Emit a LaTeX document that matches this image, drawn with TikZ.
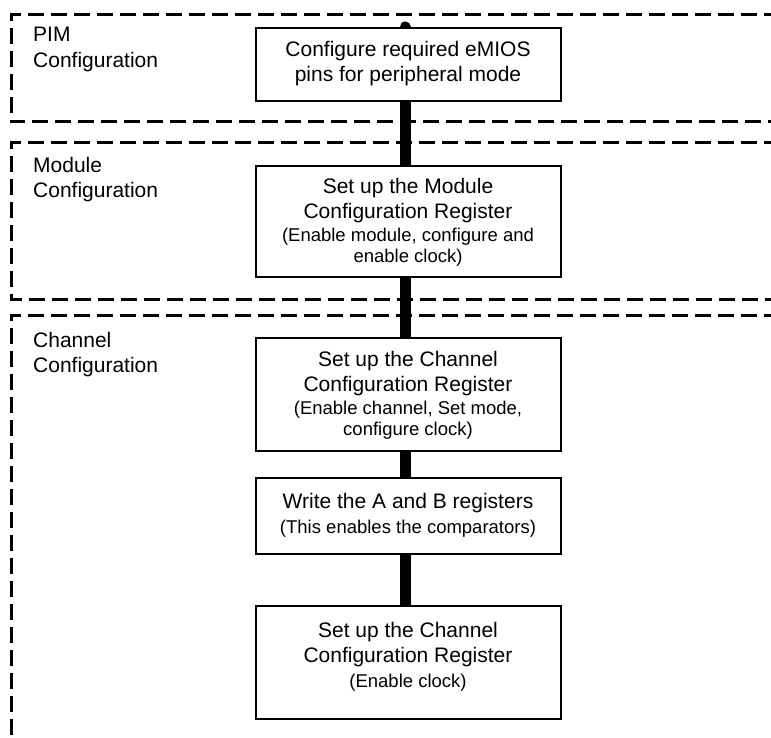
\documentclass[tikz,border=0pt]{standalone}
\usepackage{fontspec}
\setmainfont{Liberation Sans}
\pgfdeclarelayer{bg}
\pgfsetlayers{bg,main}
\newcommand\smtxt{\fontsize{18.5}{21}\selectfont}
\begin{document}
\begin{tikzpicture}[x=1pt,y=-1pt,
  zone/.style={line width=3pt, dash pattern=on 16pt off 7pt},
  stepbox/.style={draw, line width=2pt, fill=white, minimum width=305pt, inner sep=0pt},
  flow/.style={line width=11pt, line cap=round},
  txt/.style={align=center, font=\fontsize{21}{25}\selectfont, inner sep=0pt},
  lbl/.style={align=left, anchor=north west, font=\fontsize{21}{25.5}\selectfont, inner sep=0pt}]
\useasboundingbox (0,0) rectangle (771,738);
\clip (0,0) rectangle (771,738);
% zones
\draw[zone] (780,15) -- (11,15) -- (11,122) -- (780,122);
\draw[zone] (780,143) -- (11,143) -- (11,299) -- (780,299);
\draw[zone] (780,315) -- (11,315) -- (11,745);
\node[lbl] (l1) at (33,27) {PIM\\Configuration};
\node[lbl] (l2) at (33,157) {Module\\Configuration};
\node[lbl] (l3) at (33,332) {Channel\\Configuration};
% boxes
\node[stepbox, minimum height=73pt] (b1) at (408,64.5) {};
\node[stepbox, minimum height=111pt] (b2) at (408,221.5) {};
\node[stepbox, minimum height=113pt] (b3) at (408,394.5) {};
\node[stepbox, minimum height=76pt] (b4) at (408,516) {};
\node[stepbox, minimum height=113pt] (b5) at (408,662.5) {};
% texts
\node[txt] (t1) at ([yshift=1pt]b1.center) {Configure required eMIOS\\pins for peripheral mode};
\node[txt] (t2) at ([yshift=-1pt]b2.center) {Set up the Module\\Configuration Register\\[-2pt]{\smtxt (Enable module, configure and}\\[-4pt]{\smtxt enable clock)}};
\node[txt] (t3) at ([yshift=-1pt]b3.center) {Set up the Channel\\Configuration Register\\[-2pt]{\smtxt (Enable channel, Set mode,}\\[-4pt]{\smtxt configure clock)}};
\node[txt] (t4) at ([yshift=1pt]b4.center) {Write the A and B registers\\{\smtxt (This enables the comparators)}};
\node[txt] (t5) at ([yshift=6pt]b5.center) {Set up the Channel\\Configuration Register\\{\smtxt (Enable clock)}};
% connector
\begin{pgfonlayer}{bg}
\draw[flow] ([xshift=-3pt]b1.north) -- ([xshift=-3pt]b5.north);
\end{pgfonlayer}
\end{tikzpicture}
\end{document}
